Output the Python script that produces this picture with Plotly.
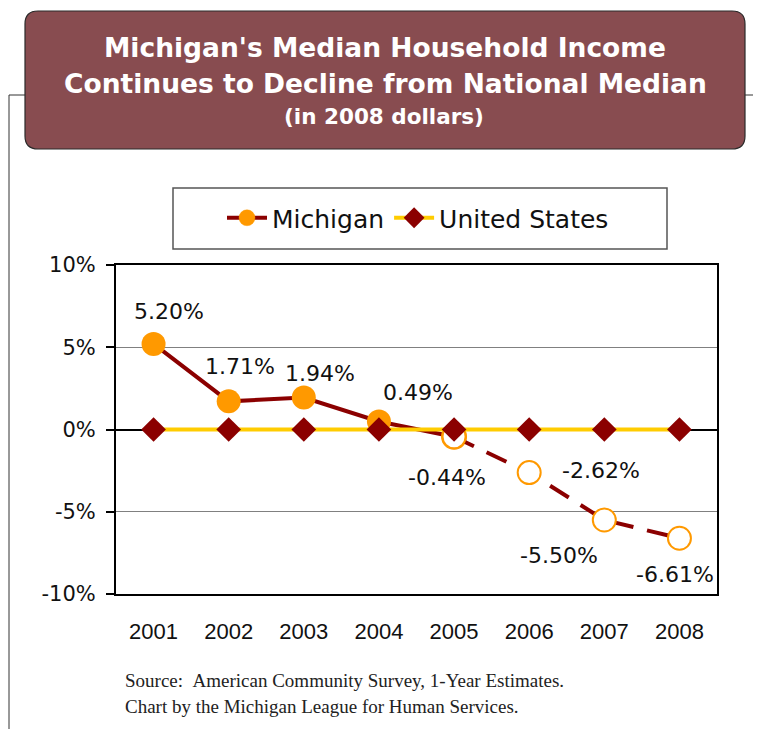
import plotly.graph_objects as go

years = ["2001", "2002", "2003", "2004", "2005", "2006", "2007", "2008"]
michigan = [5.20, 1.71, 1.94, 0.49, -0.44, -2.62, -5.50, -6.61]
united_states = [0, 0, 0, 0, 0, 0, 0, 0]
y_tick_vals = [-10, -5, 0, 5, 10]
y_tick_labels = ["-10%", "-5%", "0%", "5%", "10%"]
solid_count = 5  # 2001-2005 solid line, then dashed (projection)
filled_count = 4  # filled markers 2001-2004

OFF = 8  # page body margin
W, H = 761 - OFF, 729 - OFF
L, R, T, B = 116 - OFF, 717 - OFF, 265 - OFF, 594 - OFF


def px(x):
    return (x - OFF - L) / (R - L)


def py(y):
    return (B - (y - OFF)) / (B - T)


MAROON = "#8B0000"
ORANGE = "#FF9900"
YELLOW = "#FFCC00"
TITLE_FILL = "#884C50"
FONT = "DejaVu Sans, Verdana, sans-serif"

fig = go.Figure()

mk_col = [ORANGE] * filled_count + ["white"] * (solid_count - filled_count)
mk_line = [0] * filled_count + [2] * (solid_count - filled_count)

fig.add_trace(go.Scatter(
    x=years[:solid_count], y=michigan[:solid_count], name="Michigan",
    mode="lines+markers",
    line=dict(color=MAROON, width=4),
    marker=dict(symbol="circle", size=24, color=mk_col,
                line=dict(color=ORANGE, width=mk_line)),
    showlegend=True,
))
fig.add_trace(go.Scatter(
    x=years[solid_count - 1:], y=michigan[solid_count - 1:], name="Michigan",
    mode="lines+markers",
    line=dict(color=MAROON, width=4, dash="22px,14px"),
    marker=dict(symbol="circle", size=23, color="white",
                line=dict(color=ORANGE, width=2)),
    showlegend=False,
))
fig.add_trace(go.Scatter(
    x=years, y=united_states, name="United States",
    mode="lines+markers",
    line=dict(color=YELLOW, width=4),
    marker=dict(symbol="diamond", size=19, color=MAROON),
))

# data labels
label_shifts = [(15, 32), (11, 35), (16, 24), (39, 29), (-7, -41), (72, 2), (-45, -36), (-4, -36)]
for i, (v, (dx, dy)) in enumerate(zip(michigan, label_shifts)):
    fig.add_annotation(x=i, y=v, xref="x", yref="y", text=f"{v:.2f}%",
                       showarrow=False, xshift=dx, yshift=dy,
                       xanchor="center", yanchor="middle",
                       font=dict(family=FONT, size=22, color="#111111"))

shapes = []
# frame lines
shapes.append(dict(type="line", xref="paper", yref="paper", x0=px(9), x1=px(9), y0=py(95), y1=py(729),
                   line=dict(color="#333333", width=1)))
shapes.append(dict(type="line", xref="paper", yref="paper", x0=px(9), x1=px(25), y0=py(95), y1=py(95),
                   line=dict(color="#333333", width=1)))
shapes.append(dict(type="line", xref="paper", yref="paper", x0=px(745), x1=px(761), y0=py(95), y1=py(95),
                   line=dict(color="#333333", width=1)))

# rounded title box
x0, x1, y0, y1, r = 25, 745, 11, 149, 13
pts = (
    f"M {px(x0 + r)},{py(y0)} L {px(x1 - r)},{py(y0)} Q {px(x1)},{py(y0)} {px(x1)},{py(y0 + r)} "
    f"L {px(x1)},{py(y1 - r)} Q {px(x1)},{py(y1)} {px(x1 - r)},{py(y1)} "
    f"L {px(x0 + r)},{py(y1)} Q {px(x0)},{py(y1)} {px(x0)},{py(y1 - r)} "
    f"L {px(x0)},{py(y0 + r)} Q {px(x0)},{py(y0)} {px(x0 + r)},{py(y0)} Z"
)
shapes.append(dict(type="path", xref="paper", yref="paper", path=pts,
                   fillcolor=TITLE_FILL, line=dict(color="#2a2a2a", width=1.2), layer="above"))
# legend box
shapes.append(dict(type="rect", xref="paper", yref="paper", x0=px(173), x1=px(667), y0=py(188), y1=py(249),
                   line=dict(color="#555555", width=1.5), fillcolor="rgba(0,0,0,0)"))

title_lines = [
    ("<b>Michigan's Median Household Income</b>", 385, 47, 26.5),
    ("<b>Continues to Decline from National Median</b>", 385, 84, 26.5),
    ("<b>(in 2008 dollars)</b>", 384, 116, 21.5),
]
for txt, tx, ty, fs in title_lines:
    fig.add_annotation(xref="paper", yref="paper", x=px(tx), y=py(ty), text=txt,
                       xanchor="center", yanchor="middle",
                       showarrow=False, font=dict(family=FONT, size=fs, color="white"))

SERIF = "Liberation Serif, Times New Roman, serif"
fig.add_annotation(xref="paper", yref="paper", x=px(123), y=py(680), xanchor="left", yanchor="middle",
                   text="Source:\u00a0\u00a0American Community Survey, 1-Year Estimates.",
                   showarrow=False, font=dict(family=SERIF, size=19, color="#222222"))
fig.add_annotation(xref="paper", yref="paper", x=px(123), y=py(706), xanchor="left", yanchor="middle",
                   text="Chart by the Michigan League for Human Services.",
                   showarrow=False, font=dict(family=SERIF, size=19, color="#222222"))

fig.update_layout(
    width=W, height=H,
    margin=dict(l=L, r=W - R, t=T, b=H - B, pad=0),
    paper_bgcolor="white", plot_bgcolor="white",
    shapes=shapes,
    showlegend=True,
    legend=dict(orientation="h", x=px(418), y=py(218), xanchor="center", yanchor="middle",
                font=dict(family=FONT, size=25, color="#111111"),
                bgcolor="rgba(0,0,0,0)", borderwidth=0, itemwidth=40, tracegroupgap=0),
    xaxis=dict(type="category", categoryorder="array", categoryarray=years,
               range=[-0.5, len(years) - 0.5],
               showgrid=False, zeroline=False, ticks="", showline=True, mirror=True,
               linecolor="black", linewidth=2,
               ticklabelstandoff=17,
               tickfont=dict(family="Liberation Sans, Arial, sans-serif", size=22, color="#111111")),
    yaxis=dict(range=[-10, 10], tickvals=y_tick_vals, ticktext=y_tick_labels,
               showgrid=True, gridcolor="#808080", gridwidth=1,
               zeroline=True, zerolinecolor="black", zerolinewidth=1.5,
               showline=True, mirror=True, linecolor="black", linewidth=2,
               ticks="outside", ticklen=8, tickcolor="black", tickwidth=1.5,
               ticklabelstandoff=6,
               tickfont=dict(family=FONT, size=21, color="#111111")),
)

fig.write_html("out.html")
